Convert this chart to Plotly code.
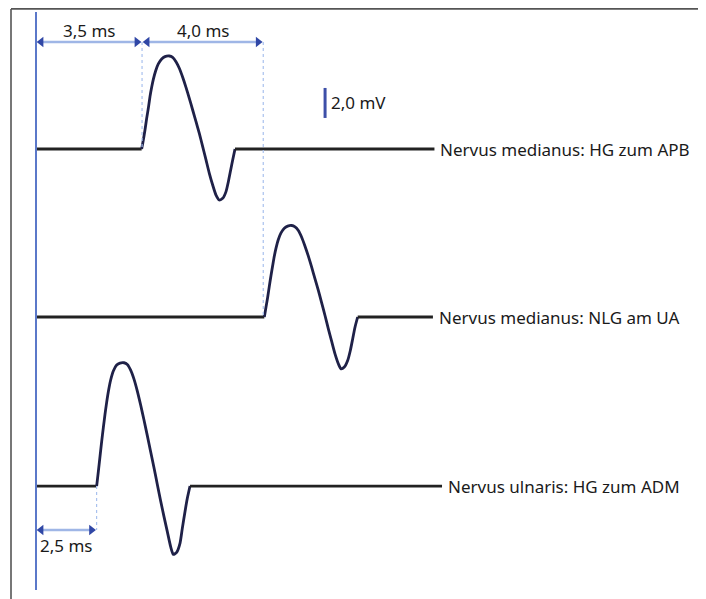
import plotly.graph_objects as go

# ---------------- data (time in ms, amplitude in mV) ----------------
trace_names = ["Nervus medianus: HG zum APB",
               "Nervus medianus: NLG am UA",
               "Nervus ulnaris: HG zum ADM"]
baselines_mv = [30.0, 18.8, 7.53]          # vertical offset of each trace
onsets_ms = [3.5, 7.5, 2.0]                # onset latency as drawn
trace_end_ms = [13.15, 13.1, 13.4]         # end of each baseline

wave1_t = [3.487, 3.542, 3.597, 3.652, 3.707, 3.762, 3.817, 3.872, 3.950, 4.037,
           4.148, 4.257, 4.400, 4.510, 4.620, 4.730, 4.841, 4.950, 5.060, 5.171,
           5.281, 5.390, 5.501, 5.611, 5.720, 5.831, 5.941, 6.050, 6.161, 6.271,
           6.348, 6.425, 6.491, 6.568]
wave1_v = [0, 0.6, 1.27, 2.04, 2.71, 3.49, 4.11, 4.64, 5.22, 5.67,
           6.0, 6.16, 6.2, 6.11, 5.82, 5.38, 4.78, 4.11, 3.38, 2.6,
           1.82, 1.04, 0.16, -0.73, -1.62, -2.4, -3.07, -3.4, -3.29, -2.84,
           -2.18, -1.4, -0.73, 0]

wave2_t = [7.536, 7.591, 7.646, 7.701, 7.756, 7.811, 7.866, 7.921, 7.998, 8.086,
           8.196, 8.306, 8.438, 8.548, 8.658, 8.768, 8.878, 8.988, 9.098, 9.208,
           9.318, 9.428, 9.538, 9.648, 9.758, 9.868, 9.978, 10.066, 10.176, 10.286,
           10.374, 10.451, 10.528, 10.616]
wave2_v = [0, 0.66, 1.32, 2.06, 2.77, 3.43, 4.06, 4.59, 5.17, 5.61,
           5.92, 6.06, 6.1, 6.01, 5.77, 5.32, 4.72, 4.06, 3.32, 2.54,
           1.77, 0.94, 0.1, -0.79, -1.63, -2.46, -3.12, -3.46, -3.34, -2.9,
           -2.23, -1.46, -0.68, 0]

wave3_t = [2.002, 2.057, 2.112, 2.167, 2.222, 2.277, 2.332, 2.387, 2.464, 2.552,
           2.662, 2.772, 2.904, 3.014, 3.124, 3.234, 3.344, 3.454, 3.564, 3.674,
           3.784, 3.894, 4.004, 4.114, 4.224, 4.334, 4.444, 4.532, 4.642, 4.752,
           4.829, 4.917, 4.994, 5.083]
wave3_v = [0, 0.96, 1.96, 2.96, 3.89, 4.78, 5.58, 6.29, 7.07, 7.67,
           8.07, 8.2, 8.22, 8.11, 7.73, 7.13, 6.33, 5.4, 4.4, 3.36,
           2.29, 1.22, 0.11, -1.0, -2.04, -3.04, -4.04, -4.56, -4.42, -3.82,
           -2.82, -1.71, -0.82, 0]

# latency measurements: (start ms, end ms, label)
meas_start = [0.0, 3.5, 0.0]
meas_end = [3.5, 7.5, 2.0]
meas_labels = ["3,5 ms", "4,0 ms", "2,5 ms"]
meas_level_mv = [37.13, 37.13, 4.6]
meas_label_mv = [37.87, 37.87, 3.6]

scale_bar_mv = 2.0
scale_bar_label = "2,0 mV"

# ---------------- styling ----------------
WAVE_COL = "#1f2148"
BASE_COL = "#222222"
ARROW_COL = "#3047a6"
ARROW_LINE = "#9fb6e6"
GUIDE_COL = "#a9c1ee"
STIM_COL = "#5b78c9"
TXT_COL = "#1a1a1a"
FONT = "Noto Sans"
FS = 17
FS_SMALL = 17

fig = go.Figure()

waves = [(wave1_t, wave1_v), (wave2_t, wave2_v), (wave3_t, wave3_v)]

for i, (wt, wv) in enumerate(waves):
    b = baselines_mv[i]
    fig.add_trace(go.Scatter(x=[0, wt[0]], y=[b, b], mode="lines",
                             line=dict(color=BASE_COL, width=2.8), hoverinfo="skip"))
    fig.add_trace(go.Scatter(x=wt, y=[b + v for v in wv], mode="lines",
                             line=dict(color=WAVE_COL, width=2.8, shape="spline", smoothing=0.6),
                             hoverinfo="skip"))
    fig.add_trace(go.Scatter(x=[wt[-1], trace_end_ms[i]], y=[b, b], mode="lines",
                             line=dict(color=BASE_COL, width=2.8), hoverinfo="skip"))
    fig.add_annotation(x=trace_end_ms[i], y=b, text=trace_names[i], showarrow=False,
                       xanchor="left", yanchor="middle", xshift=4,
                       font=dict(family=FONT, size=FS, color=TXT_COL))

# guide lines from measurement arrows to onsets
guides = [(onsets_ms[0], meas_level_mv[0], baselines_mv[0]),
          (onsets_ms[1], meas_level_mv[1], baselines_mv[1]),
          (onsets_ms[2], baselines_mv[2], meas_level_mv[2])]
for gx, y0, y1 in guides:
    fig.add_shape(type="line", xref="x", yref="y", x0=gx, x1=gx, y0=y0, y1=y1,
                  line=dict(color=GUIDE_COL, width=1.2, dash="dot"))

# measurement arrows
for s, e, lab, lv, ly in zip(meas_start, meas_end, meas_labels, meas_level_mv, meas_label_mv):
    fig.add_trace(go.Scatter(x=[s + 0.12, e - 0.12], y=[lv, lv], mode="lines",
                             line=dict(color=ARROW_LINE, width=2.5), hoverinfo="skip"))
    fig.add_trace(go.Scatter(x=[s + 0.17, e - 0.17], y=[lv, lv], mode="markers",
                             marker=dict(symbol=["triangle-left", "triangle-right"], size=9,
                                         color=ARROW_COL, line=dict(width=0)),
                             hoverinfo="skip"))
    fig.add_annotation(x=(s + e) / 2, y=ly, text=lab, showarrow=False,
                       xanchor="center", yanchor="middle",
                       font=dict(family=FONT, size=FS_SMALL, color=TXT_COL))

# stimulus line
fig.add_shape(type="line", xref="x", yref="y", x0=0, x1=0, y0=0.6, y1=39.13,
              line=dict(color=STIM_COL, width=2))

# amplitude scale bar
sb_x = 9.54
sb_y0 = 32.07
fig.add_shape(type="line", xref="x", yref="y", x0=sb_x, x1=sb_x, y0=sb_y0, y1=sb_y0 + scale_bar_mv,
              line=dict(color="#3d4fa8", width=3))
fig.add_annotation(x=sb_x, y=sb_y0 + scale_bar_mv / 2, text=scale_bar_label, showarrow=False,
                   xanchor="left", yanchor="middle", xshift=4,
                   font=dict(family=FONT, size=FS_SMALL, color=TXT_COL))

# frame (top and left)
fig.add_shape(type="line", xref="paper", yref="paper", x0=0.0043, x1=1.0, y0=0.9985, y1=0.9985,
              line=dict(color="#555555", width=1.8))
fig.add_shape(type="line", xref="paper", yref="paper", x0=0.0043, x1=0.0043, y0=0.0, y1=0.9985,
              line=dict(color="#555555", width=1.6))

# the page adds an 8px body margin, so the figure is sized to fit the window
fig.update_layout(
    width=698, height=591,
    margin=dict(l=0, r=0, t=0, b=0),
    paper_bgcolor="white", plot_bgcolor="white",
    showlegend=False,
    xaxis=dict(range=[-0.9241, 22.112], visible=False, fixedrange=True),
    yaxis=dict(range=[0, 39.4], visible=False, fixedrange=True),
)

fig.write_html("out.html")
